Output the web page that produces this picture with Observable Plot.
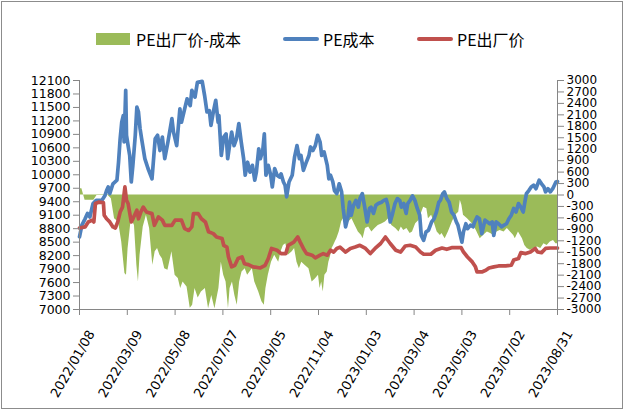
<!DOCTYPE html>
<html><head><meta charset="utf-8">
<script src="https://cdn.jsdelivr.net/npm/d3@7"></script>
<script src="https://cdn.jsdelivr.net/npm/@observablehq/plot@0.6"></script>
<style>
body{margin:0;background:#fff;}
#wrap{position:relative;width:626px;height:410px;overflow:hidden;background:#fff;}
#frame{position:absolute;left:1px;top:1px;width:620px;height:406px;border:1px solid #8c8c8c;pointer-events:none;}
#legend{position:relative;height:60px;}
.lg{position:absolute;font-family:"Noto Sans CJK SC",sans-serif;font-size:16px;line-height:20px;top:29px;color:#000;white-space:nowrap;}
.sw{position:absolute;}
#chart svg{display:block;}
</style></head><body>
<div id="wrap"><div id="legend"></div><div id="chart"></div><div id="frame"></div></div>
<script>
// ---- data ----
const seriesNames = ["PE出厂价-成本", "PE成本", "PE出厂价"];
const seriesColors = ["#9bbb59", "#4f81bd", "#c0504d"];

const xTickDates = ["2022-01-08","2022-03-09","2022-05-08","2022-07-07","2022-09-05","2022-11-04","2023-01-03","2023-03-04","2023-05-03","2023-07-02","2023-08-31"];
const leftTicks = [7000,7300,7600,7900,8200,8500,8800,9100,9400,9700,10000,10300,10600,10900,11200,11500,11800,12100];
const rightTicks = [-3000,-2700,-2400,-2100,-1800,-1500,-1200,-900,-600,-300,0,300,600,900,1200,1500,1800,2100,2400,2700,3000];

// PE成本 (left axis)
const costSeries = [["2022-01-08",8620],["2022-01-11",8880],["2022-01-15",9020],["2022-01-18",9140],["2022-01-21",9060],["2022-01-25",9360],["2022-01-29",9430],["2022-02-05",9430],["2022-02-09",9540],["2022-02-11",9650],["2022-02-13",9730],["2022-02-15",9580],["2022-02-19",9800],["2022-02-24",9880],["2022-02-26",10280],["2022-02-28",10800],["2022-03-02",11170],["2022-03-04",11320],["2022-03-05",10730],["2022-03-07",11880],["2022-03-08",10880],["2022-03-10",10650],["2022-03-12",10430],["2022-03-14",9840],["2022-03-16",10210],["2022-03-19",10880],["2022-03-21",11510],["2022-03-23",11400],["2022-03-25",11030],["2022-03-27",10800],["2022-03-31",10360],["2022-04-04",10140],["2022-04-09",9910],["2022-04-13",10800],["2022-04-16",10880],["2022-04-19",10540],["2022-04-22",10840],["2022-04-25",10360],["2022-04-29",10730],["2022-05-04",11250],["2022-05-06",10950],["2022-05-10",10650],["2022-05-14",11470],["2022-05-16",11170],["2022-05-23",11690],["2022-05-27",11540],["2022-05-29",11880],["2022-06-02",11730],["2022-06-05",12060],["2022-06-11",12080],["2022-06-14",11770],["2022-06-17",11400],["2022-06-20",11430],["2022-06-22",11100],["2022-06-25",11400],["2022-06-28",11660],["2022-07-01",11170],["2022-07-02",11320],["2022-07-05",10430],["2022-07-08",10840],["2022-07-11",10910],["2022-07-13",10360],["2022-07-16",10730],["2022-07-18",10950],["2022-07-21",10650],["2022-07-24",10800],["2022-07-27",11140],["2022-07-30",10730],["2022-08-02",10360],["2022-08-04",9990],["2022-08-07",10280],["2022-08-10",10060],["2022-08-13",10210],["2022-08-16",9880],["2022-08-18",10060],["2022-08-21",10580],["2022-08-23",10360],["2022-08-26",10540],["2022-08-28",10910],["2022-08-30",9990],["2022-09-02",10210],["2022-09-05",9990],["2022-09-07",9730],["2022-09-10",10140],["2022-09-13",9990],["2022-09-16",9950],["2022-09-18",10020],["2022-09-21",9840],["2022-09-23",9770],["2022-09-25",9510],["2022-09-28",9840],["2022-10-02",9990],["2022-10-05",10400],["2022-10-08",10650],["2022-10-11",10360],["2022-10-13",10430],["2022-10-16",10100],["2022-10-19",10250],["2022-10-23",10430],["2022-10-25",10620],["2022-10-28",10540],["2022-10-31",10650],["2022-11-03",10880],["2022-11-06",10730],["2022-11-08",10430],["2022-11-11",10510],["2022-11-15",10210],["2022-11-17",9910],["2022-11-19",9990],["2022-11-22",9840],["2022-11-24",9650],["2022-11-27",9580],["2022-11-30",9800],["2022-12-03",9620],["2022-12-05",9250],["2022-12-08",8840],["2022-12-11",9060],["2022-12-13",9390],["2022-12-15",9100],["2022-12-18",9320],["2022-12-21",9430],["2022-12-24",9280],["2022-12-26",9470],["2022-12-29",9580],["2023-01-01",9280],["2023-01-04",8950],["2023-01-07",9250],["2023-01-09",9280],["2023-01-12",9140],["2023-01-15",9320],["2023-01-18",9360],["2023-01-22",9390],["2023-01-25",9430],["2023-01-28",9450],["2023-01-30",9320],["2023-02-02",8950],["2023-02-05",9140],["2023-02-08",9360],["2023-02-11",9470],["2023-02-14",9430],["2023-02-16",9280],["2023-02-19",9360],["2023-02-22",9140],["2023-02-24",9360],["2023-02-27",9430],["2023-03-02",9530],["2023-03-05",9430],["2023-03-08",9250],["2023-03-11",9100],["2023-03-13",8650],["2023-03-16",8540],["2023-03-19",8730],["2023-03-22",8760],["2023-03-26",8950],["2023-03-29",9020],["2023-04-01",9170],["2023-04-04",9390],["2023-04-06",9430],["2023-04-09",9580],["2023-04-11",9620],["2023-04-14",9470],["2023-04-17",9390],["2023-04-20",9170],["2023-04-23",9100],["2023-04-26",8950],["2023-04-28",8880],["2023-05-01",8650],["2023-05-03",8500],["2023-05-05",8730],["2023-05-08",8910],["2023-05-10",8800],["2023-05-14",8880],["2023-05-17",8840],["2023-05-19",8950],["2023-05-22",9060],["2023-05-25",9020],["2023-05-28",8690],["2023-06-01",8990],["2023-06-04",8950],["2023-06-07",8910],["2023-06-10",8950],["2023-06-12",8650],["2023-06-15",8950],["2023-06-18",8910],["2023-06-22",8840],["2023-06-25",8880],["2023-06-28",8910],["2023-07-01",9020],["2023-07-04",9100],["2023-07-07",9250],["2023-07-10",9170],["2023-07-13",9360],["2023-07-16",9280],["2023-07-19",9170],["2023-07-21",9390],["2023-07-23",9580],["2023-07-26",9650],["2023-07-29",9730],["2023-08-01",9770],["2023-08-04",9690],["2023-08-08",9880],["2023-08-11",9800],["2023-08-14",9730],["2023-08-16",9620],["2023-08-19",9690],["2023-08-22",9620],["2023-08-25",9690],["2023-08-29",9840],["2023-08-31",9850]];

// PE出厂价 (left axis)
const priceSeries = [["2022-01-08",8815],["2022-01-15",8840],["2022-01-19",8950],["2022-01-24",8990],["2022-01-26",8950],["2022-01-28",9360],["2022-02-01",9390],["2022-02-07",9380],["2022-02-08",9100],["2022-02-11",9020],["2022-02-15",8950],["2022-02-19",8840],["2022-02-22",8815],["2022-02-25",8950],["2022-02-28",9170],["2022-03-03",9280],["2022-03-06",9730],["2022-03-08",9430],["2022-03-10",9360],["2022-03-14",8950],["2022-03-16",9020],["2022-03-21",9210],["2022-03-23",9020],["2022-03-26",9170],["2022-03-29",9280],["2022-04-02",9170],["2022-04-09",9135],["2022-04-12",8875],["2022-04-17",9060],["2022-04-22",8990],["2022-04-25",8875],["2022-05-04",8875],["2022-05-08",8990],["2022-05-16",8990],["2022-05-20",8800],["2022-05-25",8760],["2022-05-29",8840],["2022-05-31",9135],["2022-06-06",9135],["2022-06-10",9020],["2022-06-15",8950],["2022-06-19",8730],["2022-06-25",8690],["2022-06-29",8615],["2022-07-06",8580],["2022-07-08",8430],["2022-07-12",8390],["2022-07-14",8170],["2022-07-18",7950],["2022-07-22",7985],["2022-07-26",8135],["2022-07-31",8170],["2022-08-03",8020],["2022-08-08",8000],["2022-08-14",7950],["2022-08-23",7925],["2022-08-29",7985],["2022-09-02",8135],["2022-09-06",8360],["2022-09-13",8320],["2022-09-18",8245],["2022-09-24",8245],["2022-09-27",8430],["2022-10-04",8500],["2022-10-09",8615],["2022-10-12",8500],["2022-10-16",8360],["2022-10-20",8245],["2022-10-27",8210],["2022-10-31",8150],["2022-11-06",8210],["2022-11-10",8245],["2022-11-15",8210],["2022-11-19",8320],["2022-11-23",8280],["2022-11-27",8360],["2022-12-01",8390],["2022-12-08",8280],["2022-12-14",8360],["2022-12-20",8390],["2022-12-26",8430],["2023-01-02",8360],["2023-01-08",8245],["2023-01-14",8360],["2023-01-21",8470],["2023-01-27",8615],["2023-02-02",8470],["2023-02-09",8320],["2023-02-15",8280],["2023-02-21",8415],["2023-02-27",8430],["2023-03-06",8390],["2023-03-12",8280],["2023-03-16",8230],["2023-03-25",8230],["2023-03-31",8320],["2023-04-08",8370],["2023-04-14",8340],["2023-04-21",8380],["2023-05-02",8380],["2023-05-05",8280],["2023-05-10",8170],["2023-05-16",8060],["2023-05-20",7950],["2023-05-22",7836],["2023-05-28",7836],["2023-06-02",7873],["2023-06-06",7925],["2023-06-12",7950],["2023-06-18",7970],["2023-06-27",7970],["2023-07-04",7985],["2023-07-07",8100],["2023-07-13",8135],["2023-07-16",8267],["2023-07-22",8245],["2023-07-28",8280],["2023-08-03",8360],["2023-08-06",8280],["2023-08-11",8267],["2023-08-16",8360],["2023-08-22",8370],["2023-08-31",8370]];

// PE出厂价-成本 (right axis)
const spreadSeries = [["2022-01-08",165],["2022-01-11",165],["2022-01-15",-140],["2022-01-26",-140],["2022-01-30",-10],["2022-02-13",-10],["2022-02-17",-100],["2022-02-21",-620],["2022-02-26",-710],["2022-03-02",-1230],["2022-03-06",-2060],["2022-03-08",-2100],["2022-03-10",-1400],["2022-03-14",-620],["2022-03-18",-800],["2022-03-21",-1840],["2022-03-23",-2280],["2022-03-25",-1580],["2022-03-29",-840],["2022-04-02",-530],["2022-04-06",-880],["2022-04-10",-1840],["2022-04-13",-1490],["2022-04-16",-1400],["2022-04-19",-1580],["2022-04-22",-1670],["2022-04-25",-1930],["2022-04-29",-1970],["2022-05-04",-1490],["2022-05-08",-2100],["2022-05-12",-2190],["2022-05-15",-2450],["2022-05-18",-2280],["2022-05-23",-2410],["2022-05-27",-2970],["2022-05-30",-2890],["2022-06-02",-2450],["2022-06-06",-2700],["2022-06-10",-2540],["2022-06-15",-2450],["2022-06-19",-2980],["2022-06-23",-2630],["2022-06-27",-2980],["2022-07-02",-2450],["2022-07-05",-1760],["2022-07-08",-2100],["2022-07-11",-2280],["2022-07-14",-2980],["2022-07-16",-2450],["2022-07-19",-2280],["2022-07-22",-2630],["2022-07-25",-2890],["2022-07-28",-2280],["2022-07-31",-2020],["2022-08-04",-1930],["2022-08-07",-2100],["2022-08-10",-2020],["2022-08-13",-1930],["2022-08-16",-2280],["2022-08-21",-2540],["2022-08-25",-2800],["2022-08-28",-2890],["2022-08-30",-2450],["2022-09-02",-2100],["2022-09-06",-1760],["2022-09-10",-1580],["2022-09-15",-1760],["2022-09-18",-1490],["2022-09-21",-1320],["2022-09-24",-1275],["2022-09-27",-1580],["2022-10-02",-1490],["2022-10-05",-1400],["2022-10-08",-1760],["2022-10-11",-1930],["2022-10-14",-1760],["2022-10-18",-1840],["2022-10-23",-1930],["2022-10-27",-2280],["2022-10-31",-2200],["2022-11-04",-2100],["2022-11-06",-2450],["2022-11-08",-2280],["2022-11-10",-2540],["2022-11-12",-2100],["2022-11-15",-2020],["2022-11-17",-1760],["2022-11-19",-1625],["2022-11-21",-1400],["2022-11-23",-1320],["2022-11-25",-1230],["2022-11-27",-1145],["2022-11-30",-970],["2022-12-03",-710],["2022-12-05",-620],["2022-12-08",-840],["2022-12-12",-710],["2022-12-16",-620],["2022-12-20",-800],["2022-12-24",-970],["2022-12-28",-1060],["2022-12-30",-1145],["2023-01-02",-880],["2023-01-06",-840],["2023-01-10",-970],["2023-01-14",-880],["2023-01-18",-800],["2023-01-23",-750],["2023-01-27",-710],["2023-01-31",-620],["2023-02-04",-800],["2023-02-09",-880],["2023-02-13",-970],["2023-02-16",-840],["2023-02-19",-930],["2023-02-23",-880],["2023-02-27",-1010],["2023-03-02",-970],["2023-03-06",-750],["2023-03-10",-665],["2023-03-13",-490],["2023-03-16",-320],["2023-03-20",-360],["2023-03-22",-620],["2023-03-26",-530],["2023-03-29",-710],["2023-04-02",-970],["2023-04-06",-1060],["2023-04-08",-1010],["2023-04-12",-1145],["2023-04-16",-970],["2023-04-21",-710],["2023-04-25",-530],["2023-04-29",-450],["2023-05-01",-140],["2023-05-03",-270],["2023-05-05",-530],["2023-05-10",-620],["2023-05-14",-710],["2023-05-18",-800],["2023-05-22",-970],["2023-05-26",-1145],["2023-05-30",-1060],["2023-06-04",-970],["2023-06-08",-1010],["2023-06-12",-1060],["2023-06-16",-970],["2023-06-20",-930],["2023-06-25",-970],["2023-06-29",-880],["2023-07-03",-970],["2023-07-07",-1060],["2023-07-09",-1145],["2023-07-13",-970],["2023-07-18",-1145],["2023-07-21",-1320],["2023-07-24",-1400],["2023-07-28",-1450],["2023-08-01",-1400],["2023-08-06",-1360],["2023-08-10",-1400],["2023-08-14",-1275],["2023-08-18",-1320],["2023-08-22",-1230],["2023-08-26",-1190],["2023-08-29",-1275],["2023-08-31",-1275]];

// ---- build ----
const parse = d3.utcParse("%Y-%m-%d");
const fmt = d3.utcFormat("%Y/%m/%d");
const toRows = s => s.map(([d, v]) => ({date: parse(d), value: v}));
const cost = toRows(costSeries), price = toRows(priceSeries), spread = toRows(spreadSeries);
const xTicks = xTickDates.map(parse);

// right axis (-3000..3000) mapped onto left axis (7000..12100)
const L0 = leftTicks[0], L1 = leftTicks[leftTicks.length - 1];
const R0 = rightTicks[0], R1 = rightTicks[rightTicks.length - 1];
const k = (L1 - L0) / (R1 - R0);
const toLeft = r => L0 + (r - R0) * k;
const toRight = l => String(Math.round(R0 + (l - L0) / k));
const zero = toLeft(0);

const axisColor = "#868686";
const chart = Plot.plot({
  width: 626, height: 350,
  marginLeft: 79, marginRight: 69, marginTop: 20, marginBottom: 101,
  style: {fontFamily: "DejaVu Sans", fontSize: "13px", color: "#000", background: "transparent", overflow: "visible"},
  x: {type: "utc", domain: [xTicks[0], xTicks[xTicks.length - 1]]},
  y: {domain: [L0, L1]},
  marks: [
    Plot.areaY(spread, {x: "date", y1: zero, y2: d => toLeft(d.value), fill: seriesColors[0]}),
    Plot.line(cost, {x: "date", y: "value", stroke: seriesColors[1], strokeWidth: 3.7, strokeLinejoin: "round"}),
    Plot.line(price, {x: "date", y: "value", stroke: seriesColors[2], strokeWidth: 3.7, strokeLinejoin: "round"}),
    Plot.ruleX([xTicks[0]], {stroke: axisColor}),
    Plot.ruleX([xTicks[xTicks.length - 1]], {stroke: axisColor}),
    Plot.ruleY([L0], {stroke: axisColor}),
    Plot.axisY(leftTicks, {anchor: "left", tickSize: 6, tickPadding: 3, stroke: axisColor, fill: "#000", label: null, fontSize: 12.5, tickFormat: d => String(d)}),
    Plot.axisY(rightTicks.map(toLeft), {anchor: "right", tickSize: 6, tickPadding: 3, stroke: axisColor, fill: "#000", label: null, fontSize: 12, tickFormat: toRight}),
    Plot.axisX(xTicks, {anchor: "bottom", tickSize: 6, stroke: axisColor, label: null, tickFormat: () => ""}),
    Plot.text(xTicks, {x: d => d, y: L0, text: d => fmt(d), rotate: -60, textAnchor: "end", lineAnchor: "middle", dx: 12, dy: 22, fill: "#000"})
  ]
});
document.getElementById("chart").appendChild(chart);

// ---- legend ----
const legend = document.getElementById("legend");
const items = [
  {sx: 96, sw: 34, type: "rect", tx: 136},
  {sx: 283, sw: 36, type: "line", tx: 323},
  {sx: 417, sw: 36, type: "line", tx: 457}
];
items.forEach((it, i) => {
  const s = document.createElement("div");
  s.className = "sw";
  s.style.left = it.sx + "px";
  s.style.width = it.sw + "px";
  s.style.background = seriesColors[i];
  if (it.type === "rect") { s.style.top = "33px"; s.style.height = "12px"; }
  else { s.style.top = "37px"; s.style.height = "4px"; s.style.borderRadius = "2px"; }
  legend.appendChild(s);
  const t = document.createElement("div");
  t.className = "lg";
  t.style.left = it.tx + "px";
  t.textContent = seriesNames[i];
  legend.appendChild(t);
});
</script>
</body></html>
